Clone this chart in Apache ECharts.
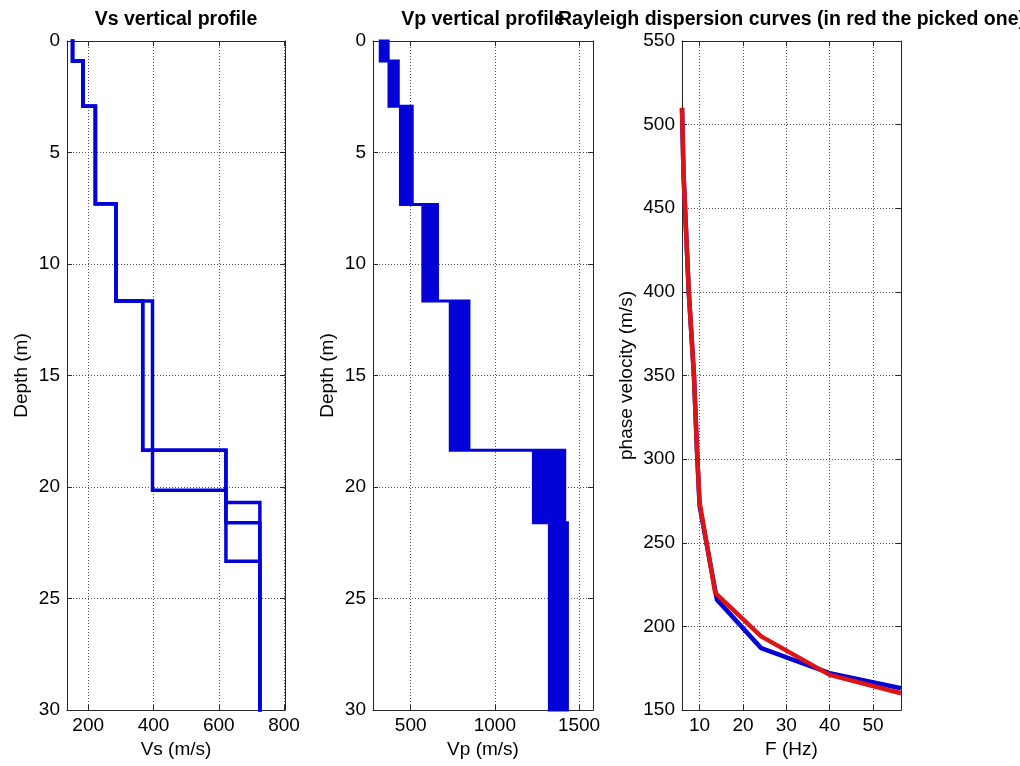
<!DOCTYPE html>
<html><head><meta charset="utf-8">
<script src="https://cdn.jsdelivr.net/npm/echarts@6/dist/echarts.min.js"></script>
<style>html,body{margin:0;padding:0;background:#fff}#c{width:1020px;height:766px}</style>
</head><body><div id="c"></div>
<script>
// ---------------- data ----------------
const depthTicks = [0, 5, 10, 15, 20, 25, 30];
const vsTicks = [200, 400, 600, 800];
const vpTicks = [500, 1000, 1500];
const freqTicks = [10, 20, 30, 40, 50];
const velTicks = [150, 200, 250, 300, 350, 400, 450, 500, 550];

// Vs profiles: layer bottom depths (m) and layer shear velocity (m/s)
const vsDepthA = [0.9, 2.93, 7.3, 11.66, 18.35, 20.7, 30];
const vsValA   = [152, 184, 222, 285, 367, 622, 726];
const vsDepthB = [0.9, 2.93, 7.3, 11.66, 20.15, 23.33, 30];
const vsValB   = [152, 184, 222, 285, 397, 622, 726];
const vsDepthC = [0.9, 2.93, 7.3, 11.66, 18.35, 21.6, 30];
const vsValC   = [152, 184, 222, 285, 367, 622, 726];

// Vp range of profiles: layer bottom depths and min / max Vp (m/s)
const vpDepth = [0.9, 2.93, 7.33, 11.66, 18.35, 21.6, 30];
const vpMin   = [319, 371, 439, 572, 735, 1229, 1324];
const vpMax   = [366, 426, 509, 659, 846, 1415, 1431];

// Rayleigh dispersion curves
const freqBlue = [5.94, 6.3, 7.5, 8.7, 9.4, 10.0, 14.0, 24.2, 40.0, 56.46];
const velBlue  = [510, 470, 400, 350, 305, 272, 216, 187, 172, 163];
const freqRed  = [5.94, 6.3, 7.5, 8.7, 9.4, 10.0, 13.6, 24.2, 40.0, 56.46];
const velRed   = [510, 470, 400, 350, 305, 274, 220, 194, 171, 160];

// ---------------- helpers ----------------
const FONT = '"Liberation Sans", Arial, Helvetica, sans-serif';
const AXC = '#262626';
const BLUE = '#0303d8';
const RED = '#dc1414';

function stepPoints(depths, vals) {
  const pts = []; let top = 0;
  for (let i = 0; i < vals.length; i++) {
    pts.push([vals[i], top]);
    pts.push([vals[i], depths[i]]);
    top = depths[i];
  }
  return pts;
}
function zip(a, b) { return a.map((v, i) => [v, b[i]]); }

const vpPoly = stepPoints(vpDepth, vpMin).concat(stepPoints(vpDepth, vpMax).reverse());

const txt = { fontFamily: FONT, fontSize: 19, color: '#000' };
const plain = v => String(v);
const gridLine = { show: true, lineStyle: { color: '#555', type: [1, 2], width: 1 } };

function xMain(gi, min, max, ticks, name) {
  return { type: 'value', gridIndex: gi, position: 'bottom', min, max, name,
    nameLocation: 'middle', nameGap: 28, nameTextStyle: txt,
    axisLine: { show: true, onZero: false, lineStyle: { color: AXC, width: 1 } },
    axisTick: { show: true, inside: true, length: 5, customValues: ticks, lineStyle: { color: AXC } },
    axisLabel: Object.assign({ customValues: ticks, margin: 6, formatter: plain }, txt),
    splitLine: gridLine };
}
function xTop(gi, min, max, ticks, title) {
  return { type: 'value', gridIndex: gi, position: 'top', min, max, name: title,
    nameLocation: 'middle', nameGap: 11,
    nameTextStyle: Object.assign({}, txt, { fontWeight: 'bold', fontSize: 19.5 }),
    axisLine: { show: true, onZero: false, lineStyle: { color: AXC, width: 1 } },
    axisTick: { show: true, inside: true, length: 5, customValues: ticks, lineStyle: { color: AXC } },
    axisLabel: { show: false, customValues: ticks },
    splitLine: { show: false } };
}
function yMain(gi, min, max, interval, inverse, name, gap) {
  return { type: 'value', gridIndex: gi, position: 'left', min, max, interval, inverse, name,
    nameLocation: 'middle', nameGap: gap, nameTextStyle: txt,
    axisLine: { show: true, onZero: false, lineStyle: { color: AXC, width: 1 } },
    axisTick: { show: true, inside: true, length: 5, lineStyle: { color: AXC } },
    axisLabel: Object.assign({ margin: 7, formatter: plain }, txt),
    splitLine: gridLine };
}
function yRight(gi, min, max, interval, inverse) {
  return { type: 'value', gridIndex: gi, position: 'right', min, max, interval, inverse,
    axisLine: { show: true, onZero: false, lineStyle: { color: AXC, width: 1 } },
    axisTick: { show: true, inside: true, length: 5, lineStyle: { color: AXC } },
    axisLabel: { show: false }, splitLine: { show: false } };
}
function stepLine(depths, vals) {
  return { type: 'line', xAxisIndex: 0, yAxisIndex: 0, data: stepPoints(depths, vals),
    showSymbol: false, symbol: 'none', silent: true, animation: false,
    lineStyle: { color: BLUE, width: 3.5, join: 'miter', cap: 'square' } };
}

const option = {
  animation: false,
  backgroundColor: '#fff',
  grid: [
    { left: 67, top: 41, width: 218, height: 669, outerBoundsMode: 'none', containLabel: false },
    { left: 373, top: 41, width: 220, height: 669, outerBoundsMode: 'none', containLabel: false },
    { left: 682, top: 41, width: 219, height: 669, outerBoundsMode: 'none', containLabel: false }
  ],
  xAxis: [
    xMain(0, 135, 803, vsTicks, 'Vs (m/s)'),
    xTop(0, 135, 803, vsTicks, 'Vs vertical profile'),
    xMain(1, 276, 1583, vpTicks, 'Vp (m/s)'),
    xTop(1, 276, 1583, vpTicks, 'Vp vertical profile'),
    xMain(2, 5.94, 56.46, freqTicks, 'F (Hz)'),
    xTop(2, 5.94, 56.46, freqTicks, 'Rayleigh dispersion curves (in red the picked one)')
  ],
  yAxis: [
    yMain(0, depthTicks[0], depthTicks[depthTicks.length - 1], 5, true, 'Depth (m)', 36),
    yRight(0, 0, 30, 5, true),
    yMain(1, depthTicks[0], depthTicks[depthTicks.length - 1], 5, true, 'Depth (m)', 36),
    yRight(1, 0, 30, 5, true),
    yMain(2, velTicks[0], velTicks[velTicks.length - 1], 50, false, 'phase velocity (m/s)', 46),
    yRight(2, 150, 550, 50, false)
  ],
  series: [
    stepLine(vsDepthA, vsValA),
    stepLine(vsDepthB, vsValB),
    stepLine(vsDepthC, vsValC),
    { type: 'custom', xAxisIndex: 2, yAxisIndex: 2, data: vpPoly, encode: { x: 0, y: 1 },
      silent: true, animation: false,
      renderItem: function (params, api) {
        if (params.dataIndex !== 0) return null;
        const pts = vpPoly.map(p => api.coord(p));
        return { type: 'polygon', shape: { points: pts },
          style: { fill: BLUE, stroke: BLUE, lineWidth: 3, lineJoin: 'miter' } };
      } },
    { type: 'line', xAxisIndex: 4, yAxisIndex: 4, data: zip(freqBlue, velBlue),
      showSymbol: false, symbol: 'none', silent: true,
      lineStyle: { color: BLUE, width: 4.5 } },
    { type: 'line', xAxisIndex: 4, yAxisIndex: 4, data: zip(freqRed, velRed),
      showSymbol: false, symbol: 'none', silent: true,
      lineStyle: { color: RED, width: 4.5 } }
  ]
};

const chart = echarts.init(document.getElementById('c'), null, { renderer: 'canvas' });
chart.setOption(option);
</script>
</body></html>
